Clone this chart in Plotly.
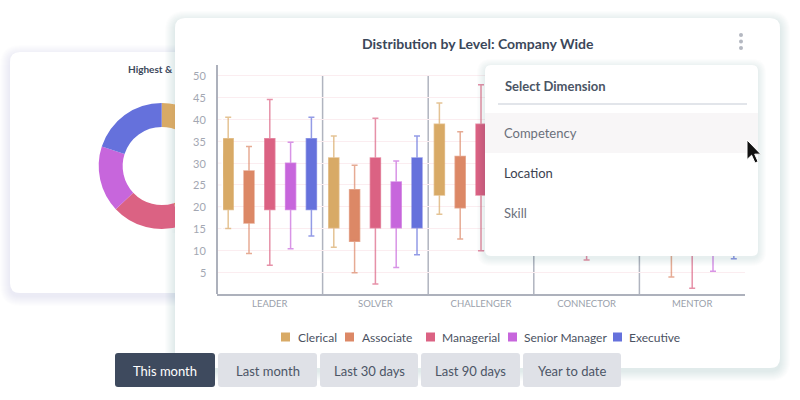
import plotly.graph_objects as go

# ---------------- data ----------------
categories = ["LEADER", "SOLVER", "CHALLENGER", "CONNECTOR", "MENTOR"]
series = ["Clerical", "Associate", "Managerial", "Senior Manager", "Executive"]
colors = ["#d8aa66", "#dc8866", "#db6283", "#c766dc", "#6571dc"]
whisker_colors = ["rgba(216,170,102,0.7)", "rgba(220,136,102,0.7)", "rgba(219,98,131,0.7)",
                  "rgba(199,102,220,0.7)", "rgba(101,113,220,0.7)"]

clerical_upper = [40.5, 36.2, 43.8, 41.7, 35.2]
clerical_q3 = [35.6, 31.2, 38.9, 36.8, 30.2]
clerical_q1 = [19.4, 15.2, 22.7, 20.6, 14.2]
clerical_lower = [15.0, 10.7, 18.3, 16.2, 9.7]

associate_upper = [33.8, 29.5, 37.2, 35.0, 28.5]
associate_q3 = [28.2, 23.9, 31.5, 29.4, 22.9]
associate_q1 = [16.3, 12.1, 19.8, 17.5, 11.1]
associate_lower = [9.3, 4.9, 12.6, 10.5, 3.9]

managerial_upper = [44.6, 40.3, 48.0, 45.8, 39.3]
managerial_q3 = [35.6, 31.2, 38.9, 36.8, 30.2]
managerial_q1 = [19.4, 15.2, 22.7, 20.6, 14.2]
managerial_lower = [6.6, 2.3, 9.9, 7.8, 1.3]

senior_upper = [34.8, 30.5, 38.2, 36.0, 29.5]
senior_q3 = [30.0, 25.7, 33.3, 31.2, 24.7]
senior_q1 = [19.4, 15.2, 22.7, 20.6, 14.2]
senior_lower = [10.4, 6.1, 13.7, 11.6, 5.2]

executive_upper = [40.5, 36.2, 43.8, 41.7, 35.2]
executive_q3 = [35.6, 31.2, 38.9, 36.8, 30.2]
executive_q1 = [19.4, 15.2, 22.7, 20.6, 14.2]
executive_lower = [13.3, 9.0, 16.6, 14.5, 8.1]

donut_values = [31, 14, 18, 17, 20]

y_ticks = [5, 10, 15, 20, 25, 30, 35, 40, 45, 50]
dropdown_items = ["Competency", "Location", "Skill"]
buttons = ["This month", "Last month", "Last 30 days", "Last 90 days", "Year to date"]

FONT = "Lato"
W, H = 800, 400


def X(px):
    return px / W


def Y(py):
    return 1 - py / H


def rrect(x0, y0, x1, y1, r):
    return (f"M {X(x0 + r)},{Y(y0)} L {X(x1 - r)},{Y(y0)} Q {X(x1)},{Y(y0)} {X(x1)},{Y(y0 + r)} "
            f"L {X(x1)},{Y(y1 - r)} Q {X(x1)},{Y(y1)} {X(x1 - r)},{Y(y1)} "
            f"L {X(x0 + r)},{Y(y1)} Q {X(x0)},{Y(y1)} {X(x0)},{Y(y1 - r)} "
            f"L {X(x0)},{Y(y0 + r)} Q {X(x0)},{Y(y0)} {X(x0 + r)},{Y(y0)} Z")


shapes = []


def add_path(path, fill, layer="below", line_color=None, line_width=0):
    shapes.append(dict(type="path", xref="paper", yref="paper", path=path, fillcolor=fill,
                       line=dict(color=line_color or "rgba(0,0,0,0)", width=line_width), layer=layer))


def add_card(x0, y0, x1, y1, r, layer="below", steps=8, alpha=0.010, dy=3):
    for i in range(steps, 0, -1):
        add_path(rrect(x0 - i, y0 - i + dy, x1 + i, y1 + i + dy, r + i), f"rgba(40,50,70,{alpha})", layer)
    add_path(rrect(x0, y0, x1, y1, r), "white", layer)


# ---------------- figure ----------------
fig = go.Figure()

stats = [
    (clerical_upper, clerical_q3, clerical_q1, clerical_lower),
    (associate_upper, associate_q3, associate_q1, associate_lower),
    (managerial_upper, managerial_q3, managerial_q1, managerial_lower),
    (senior_upper, senior_q3, senior_q1, senior_lower),
    (executive_upper, executive_q3, executive_q1, executive_lower),
]

for name, col, wcol, (up, q3, q1, lo) in zip(series, colors, whisker_colors, stats):
    fig.add_trace(go.Box(
        x=categories, q1=q1, median=q1, q3=q3, lowerfence=lo, upperfence=up,
        name=name, fillcolor=col, line=dict(color=wcol, width=1.5),
        whiskerwidth=0.6, boxpoints=False, showlegend=False, hoverinfo="skip",
    ))

# donut in the background card
fig.add_trace(go.Pie(
    labels=series, values=donut_values, hole=0.62, sort=False, direction="clockwise", rotation=0,
    marker=dict(colors=colors, line=dict(color="white", width=0)), textinfo="none",
    domain=dict(x=[X(98.7), X(224.7)], y=[Y(229.3), Y(102.7)]), showlegend=False, hoverinfo="skip",
))

# cards (below everything)
add_card(10, 52, 300, 293, 10, steps=10, alpha=0.009)
add_card(175, 18, 780, 368, 10, steps=10, alpha=0.011)

# kebab menu dots
for cy in (35, 41.5, 48):
    shapes.append(dict(type="circle", xref="paper", yref="paper", x0=X(739), x1=X(743),
                       y0=Y(cy + 2), y1=Y(cy - 2), fillcolor="#b4b8c1", line=dict(width=0), layer="below"))

# category dividers
for i in range(len(categories) - 1):
    shapes.append(dict(type="line", xref="x", yref="y", x0=i + 0.5, x1=i + 0.5, y0=0, y1=50,
                       line=dict(color="#b0b4bf", width=1.5), layer="below"))

# legend squares
legend_pos = [(281, 296), (345, 360), (426, 440), (508, 522), (613, 627)]
for (sx, tx), col in zip(legend_pos, colors):
    shapes.append(dict(type="rect", xref="paper", yref="paper", x0=X(sx), x1=X(sx + 9),
                       y0=Y(341.5), y1=Y(332.5), fillcolor=col, line=dict(width=0), layer="below"))

# buttons
btn_x = [(115, 215), (218, 317), (320, 418), (421, 520), (523, 621)]
for i, (bx0, bx1) in enumerate(btn_x):
    add_path(rrect(bx0, 353, bx1, 387, 3), "#3e4a5e" if i == 0 else "#dfe1e7", "below")

# cover for the part of the donut hidden behind the main card
add_path(f"M {X(175)},{Y(100)} L {X(223.1)},{Y(100)} L {X(223.1)},{Y(233)} L {X(175)},{Y(233)} Z", "white", "above")
for i in range(3):
    add_path(f"M {X(175 - i - 1)},{Y(100)} L {X(175 - i)},{Y(100)} L {X(175 - i)},{Y(233)} L {X(175 - i - 1)},{Y(233)} Z",
             f"rgba(40,50,70,{0.018 - i * 0.005})", "above")
# restore grid line stubs hidden by the cover
for v in y_ticks:
    if 15 <= v <= 40:
        shapes.append(dict(type="line", xref="paper", yref="y", x0=X(217), x1=X(221.5), y0=v, y1=v,
                           line=dict(color="#fbedf0", width=1), layer="above"))
# y axis line
shapes.append(dict(type="line", xref="x domain", yref="y", x0=0, x1=0, y0=0, y1=52.5,
                   line=dict(color="#adb1bc", width=2), layer="above"))

# dropdown menu
add_card(485, 65, 758, 256, 6, layer="above", steps=8, alpha=0.012, dy=2)
add_path(f"M {X(485)},{Y(113)} L {X(758)},{Y(113)} L {X(758)},{Y(153)} L {X(485)},{Y(153)} Z", "#f8f6f7", "above")
shapes.append(dict(type="line", xref="paper", yref="paper", x0=X(498), x1=X(747), y0=Y(104), y1=Y(104),
                   line=dict(color="#d9dce3", width=1.5), layer="above"))

# cursor
cx, cy0, s = 747, 140, 1.15
arrow = [(0, 0), (0, 17), (4, 13.2), (7, 20), (9.6, 18.8), (6.7, 12.3), (12, 12.3)]
p = "M " + " L ".join(f"{X(cx + ax * s)},{Y(cy0 + ay * s)}" for ax, ay in arrow) + " Z"
add_path(p, "#111111", "above", line_color="white", line_width=1)

annotations = []


def text(x, y, t, size=12, color="#4b5262", anchor="center", bold=False):
    annotations.append(dict(xref="paper", yref="paper", x=X(x), y=Y(y), text=f"<b>{t}</b>" if bold else t,
                            showarrow=False, xanchor=anchor, yanchor="middle",
                            font=dict(family=FONT, size=size, color=color)))


text(478, 44, "Distribution by Level: Company Wide", 14, "#3b475a", bold=True)
text(175, 69, "Highest &", 10, "#3b475a", anchor="right", bold=True)

for v in y_ticks:
    annotations.append(dict(xref="paper", yref="y", x=X(208), y=v, text=str(v), showarrow=False,
                            xanchor="right", yanchor="middle", font=dict(family=FONT, size=11, color="#a3a7b2")))

for (sx, tx), name in zip(legend_pos, series):
    text(tx, 337, name, 12, "#4b5262", anchor="left")

text(503, 86, "Select Dimension", 13, "#4b5565", anchor="left", bold=True)
item_colors = ["#6b707b", "#3c4250", "#6b707b"]
for i, (item, c) in enumerate(zip(dropdown_items, item_colors)):
    text(502, 133 + 40 * i, item, 13, c, anchor="left")

for i, ((bx0, bx1), label) in enumerate(zip(btn_x, buttons)):
    text((bx0 + bx1) / 2, 371, label, 13, "white" if i == 0 else "#4c5566")

fig.update_layout(
    width=W, height=H, margin=dict(l=0, r=0, t=0, b=0, pad=0),
    paper_bgcolor="white", plot_bgcolor="rgba(0,0,0,0)",
    boxmode="group", boxgap=0.015, boxgroupgap=0.52, showlegend=False,
    xaxis=dict(domain=[X(217), X(745)], type="category", categoryorder="array", categoryarray=categories,
               range=[-0.5, 4.5], showgrid=False, showline=True, linecolor="#adb1bc", linewidth=2,
               ticks="", tickfont=dict(family=FONT, size=9.5, color="#9a9fab"), zeroline=False),
    yaxis=dict(domain=[Y(294), Y(65)], range=[0, 52.5], dtick=5, showgrid=True, gridcolor="#fbedf0",
               gridwidth=1, showticklabels=False, zeroline=False, showline=False, ticks=""),
    shapes=shapes, annotations=annotations,
)

fig.write_html("out.html", config={"displayModeBar": False},
               post_script="document.body.style.margin='0';document.body.style.padding='0';document.body.style.overflow='hidden';")
